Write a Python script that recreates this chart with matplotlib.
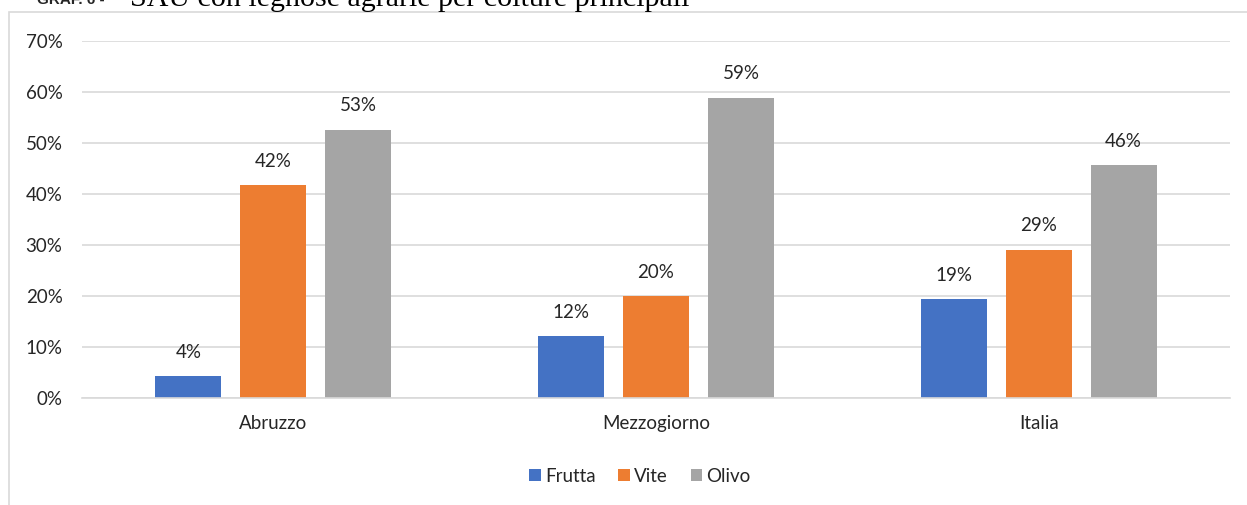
import matplotlib.pyplot as plt
import numpy as np
from matplotlib.patches import Rectangle

categories = ['Abruzzo', 'Mezzogiorno', 'Italia']
series = ['Frutta', 'Vite', 'Olivo']
frutta = [4.3, 12.2, 19.4]
vite = [41.8, 20.0, 29.1]
olivo = [52.6, 58.9, 45.6]
labels_frutta = ['4%', '12%', '19%']
labels_vite = ['42%', '20%', '29%']
labels_olivo = ['53%', '59%', '46%']
yticks = [0, 10, 20, 30, 40, 50, 60, 70]
colors = ['#4472C4', '#ED7D31', '#A5A5A5']

plt.rcParams['font.family'] = ['Lato', 'DejaVu Sans']
fs = 13.5

fig = plt.figure(figsize=(12.47, 5.05), dpi=100)
W, H = 1247, 505
ax = fig.add_axes([82 / W, 1 - 398 / H, (1230 - 82) / W, (398 - 41) / H])

# outer chart frame (cropped at right and bottom)
fig.patches.append(Rectangle((9 / W, -0.1), 1.2, 1 - 12 / H + 0.1, transform=fig.transFigure,
                             fill=False, edgecolor='#D9D9D9', linewidth=1.2))

x = np.arange(len(categories))
bw = 66 / 382.7
step = 85 / 382.7
for i, (vals, labs) in enumerate(zip([frutta, vite, olivo], [labels_frutta, labels_vite, labels_olivo])):
    pos = x + (i - 1) * step
    ax.bar(pos, vals, width=bw, color=colors[i], label=series[i], zorder=3)
    for p, v, l in zip(pos, vals, labs):
        ax.annotate(l, (p, v), xytext=(0, 11), textcoords='offset points',
                    ha='center', va='bottom', fontsize=fs, color='#262626')

ax.set_xlim(-0.5, 2.5)
ax.set_ylim(0, 70)
ax.set_yticks(yticks)
ax.set_yticklabels([f'{t}%' for t in yticks], fontsize=fs, color='#262626')
ax.set_xticks(x)
ax.set_xticklabels(categories, fontsize=fs, color='#262626')
ax.tick_params(axis='both', length=0)
ax.tick_params(axis='x', pad=12)
ax.tick_params(axis='y', pad=14)
ax.grid(axis='y', color='#D9D9D9', linewidth=1.2, zorder=0)
for s in ['top', 'right', 'left']:
    ax.spines[s].set_visible(False)
ax.spines['bottom'].set_color('#D9D9D9')
ax.spines['bottom'].set_linewidth(1.2)
ax.spines['bottom'].set_zorder(4)

fig.legend(loc='center', bbox_to_anchor=(640 / W, 1 - 476 / H), ncol=3, frameon=False,
           fontsize=fs, handlelength=0.6, handleheight=0.6, handletextpad=0.25,
           columnspacing=1.2, labelcolor='#262626')

# heading above the chart, cropped at the top edge as in the source
fig.text(37 / W, 1 - 4 / H, 'GRAF. 6 -', fontsize=11, fontweight='bold',
         family=['Liberation Sans Narrow', 'Liberation Sans', 'DejaVu Sans'],
         ha='left', va='baseline', color='#262626')
fig.text(130 / W, 1 - 6 / H, 'SAU con legnose agrarie per colture principali', fontsize=21.6,
         family=['Liberation Serif', 'DejaVu Serif'], ha='left', va='baseline', color='black')

fig.savefig('out.png', dpi=100)
